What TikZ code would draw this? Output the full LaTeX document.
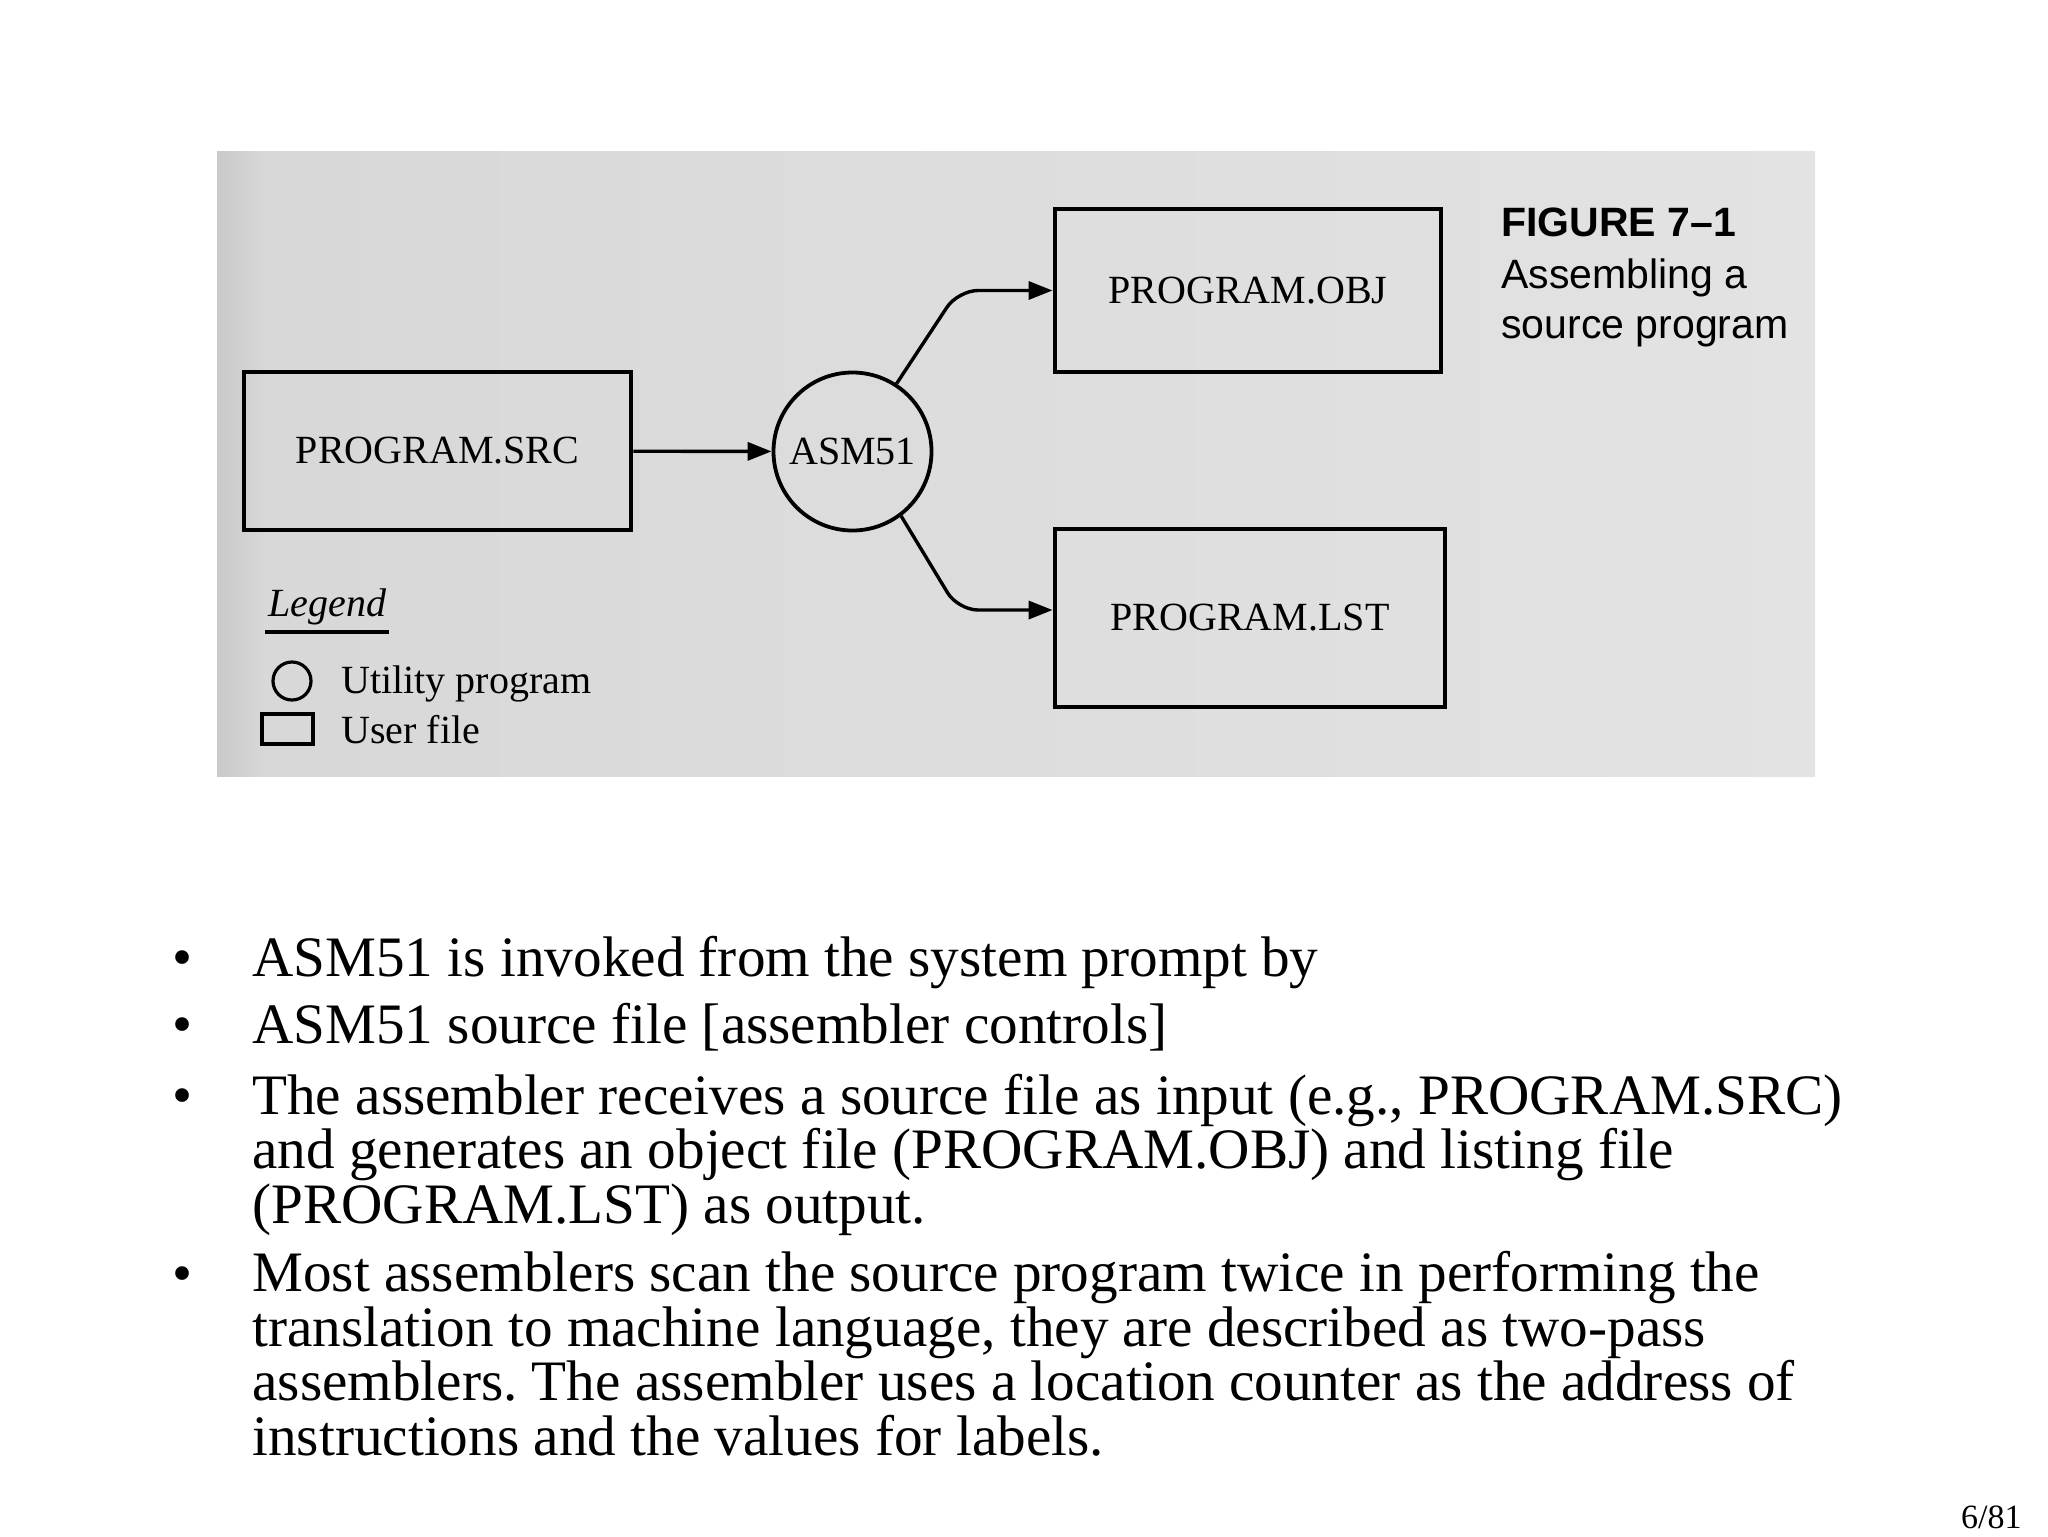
\documentclass[tikz,border=0pt]{standalone}
\usepackage{fontspec}
\setmainfont{Liberation Serif}
\newfontfamily\capfont{Liberation Sans}
\usetikzlibrary{arrows.meta}
\frenchspacing

\begin{document}
\begin{tikzpicture}[x=0.5pt,y=-0.5pt,
  filebox/.style={draw,line width=2.4pt,inner sep=0pt,font=\fontsize{20}{24}\selectfont},
  utilnode/.style={draw,circle,line width=1.9pt,inner sep=0pt,minimum size=79pt,font=\fontsize{20}{24}\selectfont},
  flow/.style={line width=1.7pt,-{Triangle[length=12pt,width=9pt]}},
  figtext/.style={anchor=base west,inner sep=0pt,font=\fontsize{20.5}{24}\capfont},
  legtext/.style={anchor=base west,inner sep=0pt,font=\fontsize{20}{24}\selectfont},
  bullettext/.style={anchor=base west,inner sep=0pt,align=left,font=\fontsize{28.6}{27.2}\selectfont},
  bulletmark/.style={anchor=base,inner sep=0pt,font=\fontsize{28.6}{27.2}\selectfont}]
 \useasboundingbox (0,0) rectangle (2048,1536);
 % scanned figure background
 \shade[left color=gray!31,right color=gray!22] (217,151) rectangle (1815,776);
 \shade[left color=gray!42,right color=gray!31] (217,151) rectangle (262,776);
 % files and the assembler
 \node[filebox,minimum width=193.5pt,minimum height=79pt] (src) at (437.5,451) {PROGRAM.SRC};
 \node[filebox,minimum width=193pt,minimum height=81.5pt] (obj) at (1248,290.5) {PROGRAM.OBJ};
 \node[filebox,minimum width=195pt,minimum height=89pt] (lst) at (1250,618) {PROGRAM.LST};
 \node[utilnode] (asm) at (852.5,451.5) {ASM51};
 \coordinate (objbend) at (958,290.5);
 \coordinate (lstbend) at (958,610);
 \draw[flow] (src) -- (asm);
 \draw[flow,rounded corners=10pt] (asm.57) -- (objbend) -- (obj.west);
 \draw[flow,rounded corners=10pt] (asm.-53) -- (lstbend) -- (lstbend -| lst.west);
 % caption
 \node[figtext,font=\fontsize{20.5}{24}\capfont\bfseries] (fig) at (1501,236) {FIGURE 7–1};
 \node[figtext] (cap1) at (1501,288) {Assembling a};
 \node[figtext] (cap2) at (1501,338) {source program};
 % legend
 \node[legtext,font=\fontsize{20}{24}\selectfont\itshape] (leg) at (268,616) {Legend};
 \draw[line width=2pt] (265,632) -- (389,632);
 \node[draw,circle,line width=1.6pt,inner sep=0pt,minimum size=19pt] (legcirc) at (292,681) {};
 \node[legtext] (legutil) at (341,693) {Utility program};
 \node[draw,line width=1.6pt,inner sep=0pt,minimum width=25.5pt,minimum height=15pt] (legbox) at (287.5,729) {};
 \node[legtext] (leguser) at (341,743) {User file};
 % bullet list
 \foreach \y/\n in {976/b1,1043/b2,1114/b3,1292/b4}{\node[bulletmark] (\n mark) at (183,\y) {\textbullet};}
 \node[bullettext] (b1) at (252,976) {ASM51 is invoked from the system prompt by};
 \node[bullettext] (b2) at (252,1043) {ASM51 source file [assembler controls]};
 \node[bullettext] (b3) at (252,1223) {The assembler receives a source file as input (e.g., PROGRAM.SRC)\\and generates an object file (PROGRAM.OBJ) and listing file\\(PROGRAM.LST) as output.};
 \node[bullettext] (b4) at (252,1455) {Most assemblers scan the source program twice in performing the\\translation to machine language, they are described as two-pass\\assemblers. The assembler uses a location counter as the address of\\instructions and the values for labels.};
 \node[anchor=base east,inner sep=0pt,font=\fontsize{17}{20}\selectfont] (page) at (2022,1528) {6/81};
\end{tikzpicture}
\end{document}
